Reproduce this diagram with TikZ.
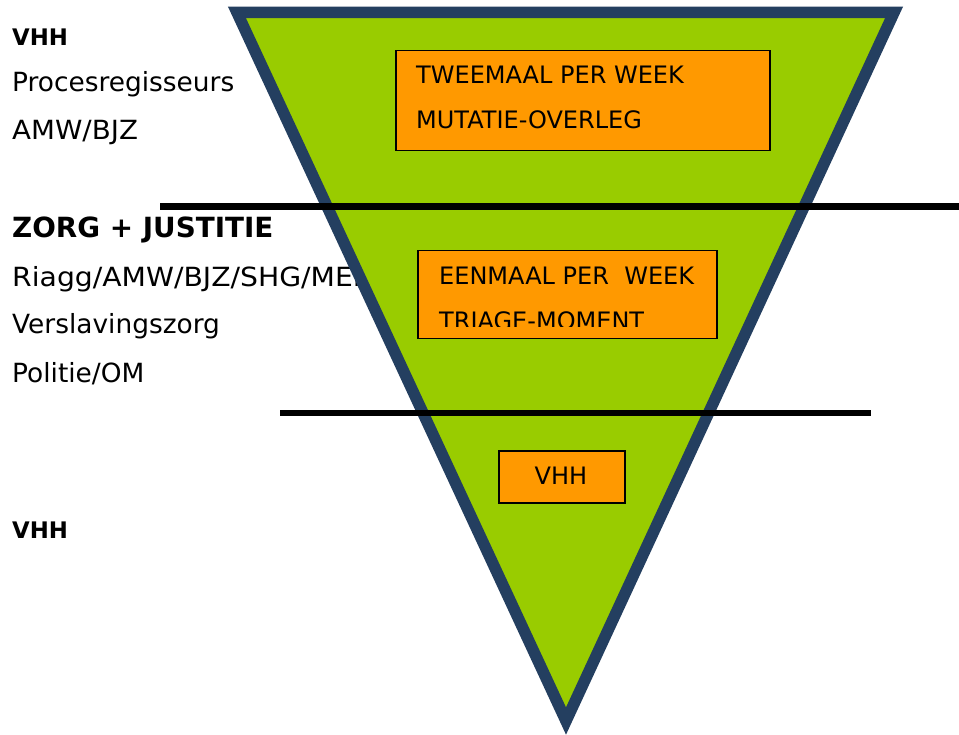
\documentclass[tikz,border=0pt]{standalone}
\usepackage{fontspec}
\setmainfont{DejaVu Sans}
\definecolor{leafgreen}{HTML}{99CC00}
\definecolor{darkblue}{HTML}{243F60}
\definecolor{boxorange}{HTML}{FF9900}

\begin{document}
\begin{tikzpicture}[x=1pt,y=-1pt,
    lefttxt/.style={anchor=base west, inner sep=0pt, font=\fontsize{26.4}{30}\selectfont},
    lefthead/.style={anchor=base west, inner sep=0pt, font=\fontsize{22.8}{30}\selectfont\bfseries},
    boxtxt/.style={anchor=base west, inner sep=0pt, font=\fontsize{24}{28}\selectfont},
    meetbox/.style={draw=black, fill=boxorange, line width=1.5pt, anchor=north west, inner sep=0pt}]
        \useasboundingbox (0,0) rectangle (959,735);
        % left column
        \node[lefthead](vhhtop) at (12,46)  {VHH};
        \node[lefttxt](regie) at (12,92)  {Procesregisseurs};
        \node[lefttxt](amwtop) at (12,140)  {\scalebox{1.05}[1]{AMW/BJZ}};
        \node[lefthead, font=\fontsize{27.8}{30}\selectfont\bfseries](zorg) at (12,238)  {ZORG + JUSTITIE};
        \node[lefttxt](riagg) at (12,287)  {\scalebox{1.07}[1]{Riagg/AMW/BJZ/SHG/MEE}};
        \node[lefttxt](versl) at (12,334)  {Verslavingszorg};
        \node[lefttxt](politie) at (12,383)  {Politie/OM};
        \node[lefthead](vhhbot) at (12,538)  {VHH};
        % funnel
        \draw[line width=11.5pt, draw=darkblue, fill=leafgreen, line join=miter] (237,12.5) -- (894,12.5) -- (566,721) -- cycle;
        \draw[line width=7pt] (160,206.5) -- (959,206.5);  % upper divider
        \draw[line width=6pt] (280,413) -- (871,413);  % lower divider
        % meetings
        \node[meetbox, minimum width=374pt, minimum height=100pt](mutbox) at (395,50)  {};
        \node[boxtxt](twee) at (416,84)  {TWEEMAAL PER WEEK};
        \node[boxtxt](mutatie) at (416,129)  {MUTATIE-OVERLEG};
        \node[meetbox, minimum width=299pt, minimum height=88pt](triagebox) at (417,250)  {};
        \node[boxtxt](een) at (439,285)  {EENMAAL PER\ \ WEEK};
        \begin{scope}
            \clip (418,251) rectangle (715,327);
            \node[boxtxt](triage) at (439,330)  {TRIAGE-MOMENT};
        \end{scope}
        \node[meetbox, minimum width=126pt, minimum height=52pt](vhhbox) at (498,450)  {};
        \node[boxtxt, anchor=base](vhhmid) at (561,484)  {VHH};
\end{tikzpicture}
\end{document}
